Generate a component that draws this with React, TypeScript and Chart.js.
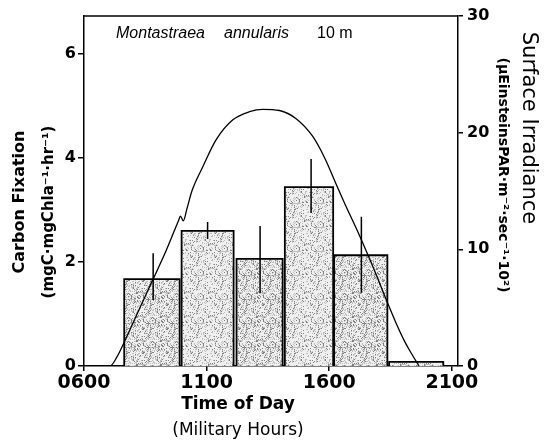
import React, { useEffect, useRef } from 'react';
import { Chart, registerables } from 'chart.js';

Chart.register(...registerables);

// ---- data ----
const xTickValues = [6, 11, 16, 21];
const xTickLabels = ['0600', '1100', '1600', '2100'];
const leftTickValues = [0, 2, 4, 6];
const rightTickValues = [0, 10, 20, 30];

// carbon fixation bars (hour start / end, value)
const barStart = [7.64, 9.98, 12.22, 14.19, 16.2, 18.44];
const barEnd = [9.9, 12.1, 14.1, 16.16, 18.37, 20.65];
const barValue = [1.67, 2.6, 2.06, 3.44, 2.13, 0.08];

// error bars
const errHour = [8.82, 11.04, 13.18, 15.26, 17.31];
const errLow = [1.27, 2.44, 1.4, 2.94, 1.41];
const errHigh = [2.17, 2.77, 2.69, 3.98, 2.87];

// surface irradiance curve
const irrHour = [6.0, 7.06, 7.35, 7.63, 8.28, 8.82, 9.36, 9.86, 9.93, 10.05, 10.2, 10.4, 10.85, 11.39, 12.07, 12.75, 13.29, 13.97, 14.65, 15.32, 15.8, 16.3, 16.7, 17.1, 17.5, 17.9, 18.3, 18.7, 19.1, 19.4, 19.66];
const irrValue = [0, 0, 0.8, 2.0, 5.0, 7.45, 9.94, 12.5, 12.85, 12.45, 13.5, 15.0, 17.1, 19.4, 21.1, 21.8, 22.0, 21.9, 21.2, 19.7, 17.9, 15.5, 13.6, 11.8, 9.9, 7.9, 5.8, 3.8, 2.0, 0.9, 0];

// texts
const titleGenus = 'Montastraea';
const titleSpecies = 'annularis';
const titleDepth = '10 m';
const leftTitle1 = 'Carbon Fixation';
const leftTitle2 = '(mgC·mgChla⁻¹·hr⁻¹)';
const rightTitle1 = 'Surface Irradiance';
const rightTitle2 = '(μEinsteinsPAR·m⁻²·sec⁻¹·10²)';
const xTitle1 = 'Time of Day';
const xTitle2 = '(Military Hours)';

const FONT = '"DejaVu Sans", sans-serif';

function makePattern(dark: boolean): CanvasPattern | string {
  const c = document.createElement('canvas');
  const n = 24;
  c.width = n;
  c.height = n;
  const g = c.getContext('2d');
  if (!g) return '#d4d4d4';
  g.fillStyle = '#f0f0f0';
  g.fillRect(0, 0, n, n);
  for (let i = 0; i < n; i++) {
    for (let j = 0; j < n; j++) {
      const h = (i * 7919 + j * 104729 + i * j * 31 + (i ^ j) * 13) % 97;
      if (h < (dark ? 14 : 9)) {
        g.fillStyle = '#808080';
        g.fillRect(i, j, 1, 1);
      } else if (h < (dark ? 38 : 28)) {
        g.fillStyle = '#bdbdbd';
        g.fillRect(i, j, 1, 1);
      }
    }
  }
  return g.createPattern(c, 'repeat') || '#d4d4d4';
}

const textPlugin = {
  id: 'figureTexts',
  afterDraw(chart: any) {
    const { ctx, chartArea: a } = chart;
    ctx.save();
    ctx.strokeStyle = '#000';
    ctx.lineWidth = 1.5;
    ctx.beginPath();
    ctx.moveTo(a.left, a.top);
    ctx.lineTo(a.right, a.top);
    ctx.stroke();

    ctx.fillStyle = '#000';
    ctx.textAlign = 'left';
    ctx.textBaseline = 'alphabetic';
    ctx.font = 'italic 16px "Liberation Sans", sans-serif';
    ctx.fillText(titleGenus, a.left + 32, a.top + 22);
    ctx.fillText(titleSpecies, a.left + 140, a.top + 22);
    ctx.font = '16px "Liberation Sans", sans-serif';
    ctx.fillText(titleDepth, a.left + 233, a.top + 22);

    ctx.textAlign = 'center';
    ctx.textBaseline = 'middle';
    // bottom titles
    ctx.font = 'bold 17px ' + FONT;
    ctx.fillText(xTitle1, 238, a.bottom + 39);
    ctx.font = '17px ' + FONT;
    ctx.fillText(xTitle2, 238, a.bottom + 65);

    // left titles
    ctx.save();
    ctx.translate(20, 202);
    ctx.rotate(-Math.PI / 2);
    ctx.font = 'bold 16px ' + FONT;
    ctx.fillText(leftTitle1, 0, 0);
    ctx.restore();
    ctx.save();
    ctx.translate(49, 212);
    ctx.rotate(-Math.PI / 2);
    ctx.font = 'bold 15px ' + FONT;
    ctx.fillText(leftTitle2, 0, 0);
    ctx.restore();

    // right titles
    ctx.save();
    ctx.translate(503, 175);
    ctx.rotate(Math.PI / 2);
    ctx.font = 'bold 14px ' + FONT;
    ctx.fillText(rightTitle2, 0, 0);
    ctx.restore();
    ctx.save();
    ctx.translate(528, 128);
    ctx.rotate(Math.PI / 2);
    ctx.font = '21px ' + FONT;
    ctx.fillText(rightTitle1, 0, 0);
    ctx.restore();

    ctx.restore();
  },
};

export default function App() {
  const ref = useRef<HTMLCanvasElement | null>(null);

  useEffect(() => {
    if (!ref.current) return;
    Chart.defaults.color = '#000';

    const barSets = barStart.map((s, i) => ({
      type: 'line' as const,
      label: 'bar' + i,
      data: [
        { x: s, y: 0 },
        { x: s, y: barValue[i] },
        { x: barEnd[i], y: barValue[i] },
        { x: barEnd[i], y: 0 },
      ],
      yAxisID: 'y',
      borderColor: '#000',
      borderWidth: 1.8,
      backgroundColor: makePattern(i % 2 === 0),
      fill: 'origin',
      tension: 0,
      pointRadius: 0,
      order: 3,
    }));

    const errData: any[] = [];
    errHour.forEach((h, i) => {
      errData.push({ x: h, y: errLow[i] });
      errData.push({ x: h, y: errHigh[i] });
      errData.push({ x: h, y: null });
    });

    const chart = new Chart(ref.current, {
      type: 'line',
      data: {
        datasets: [
          {
            label: 'Surface irradiance',
            data: irrHour.map((h, i) => ({ x: h, y: irrValue[i] })),
            yAxisID: 'y1',
            borderColor: '#000',
            borderWidth: 1.3,
            pointRadius: 0,
            fill: false,
            cubicInterpolationMode: 'monotone',
            order: 1,
          },
          {
            label: 'error',
            data: errData,
            yAxisID: 'y',
            borderColor: '#000',
            borderWidth: 1.5,
            pointRadius: 0,
            fill: false,
            spanGaps: false,
            tension: 0,
            order: 2,
          },
          ...barSets,
        ] as any,
      },
      options: {
        animation: false,
        responsive: false,
        maintainAspectRatio: false,
        layout: { padding: { top: 16, left: 0, right: 0, bottom: 0 } },
        plugins: {
          legend: { display: false },
          tooltip: { enabled: false },
          title: { display: false },
        },
        scales: {
          x: {
            type: 'linear',
            min: 6,
            max: 21.25,
            position: 'bottom',
            afterBuildTicks: (s: any) => {
              s.ticks = xTickValues.map((v) => ({ value: v }));
            },
            afterFit: (s: any) => {
              s.height = 77;
            },
            ticks: {
              autoSkip: false,
              maxRotation: 0,
              padding: 1,
              color: '#000',
              font: { family: FONT, size: 19, weight: 'bold' },
              callback: (v: any) => {
                const k = xTickValues.indexOf(Number(v));
                return k >= 0 ? xTickLabels[k] : '';
              },
            },
            grid: { display: true, drawOnChartArea: false, drawTicks: true, tickLength: 5, color: '#000', lineWidth: 1.5 },
            border: { display: true, color: '#000', width: 1.5 },
          },
          y: {
            type: 'linear',
            position: 'left',
            min: 0,
            max: 6.73,
            afterBuildTicks: (s: any) => {
              s.ticks = leftTickValues.map((v) => ({ value: v }));
            },
            afterFit: (s: any) => {
              s.width = 84;
            },
            ticks: {
              padding: 2,
              color: '#000',
              font: { family: FONT, size: 16, weight: 'bold' },
            },
            grid: { display: true, drawOnChartArea: false, drawTicks: true, tickLength: 6, color: '#000', lineWidth: 1.5 },
            border: { display: true, color: '#000', width: 1.5 },
          },
          y1: {
            type: 'linear',
            position: 'right',
            min: 0,
            max: 30,
            afterBuildTicks: (s: any) => {
              s.ticks = rightTickValues.map((v) => ({ value: v }));
            },
            afterFit: (s: any) => {
              s.width = 93;
            },
            ticks: {
              padding: 4,
              color: '#000',
              font: { family: FONT, size: 16, weight: 'bold' },
            },
            grid: { display: true, drawOnChartArea: false, drawTicks: true, tickLength: 5, color: '#000', lineWidth: 1.5 },
            border: { display: true, color: '#000', width: 1.5 },
          },
        },
      } as any,
      plugins: [textPlugin],
    });

    return () => {
      chart.destroy();
    };
  }, []);

  return (
    <div style={{ position: 'fixed', left: 0, top: 0, width: 551, height: 443, background: '#fff' }}>
      <canvas ref={ref} width={551} height={443} style={{ display: 'block' }} />
    </div>
  );
}
